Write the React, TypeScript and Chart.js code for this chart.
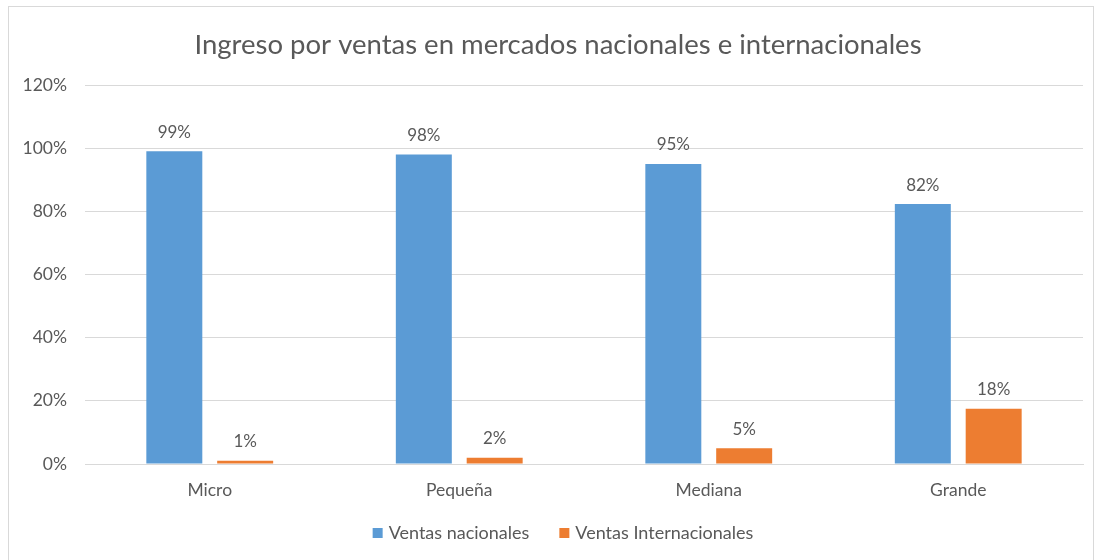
import React, { useEffect, useRef } from "react";
import { Chart, registerables } from "chart.js";

Chart.register(...registerables);

const categories = ["Micro", "Pequeña", "Mediana", "Grande"];
const nacionales = [99, 98, 95, 82.3];
const internacionales = [1, 2, 5, 17.5];
const yTicks = [0, 20, 40, 60, 80, 100, 120];
const titleText = "Ingreso por ventas en mercados nacionales e internacionales";

const TEXT = "#595959";
const FONT = "Lato, 'Noto Sans', sans-serif";

const dataLabels = {
  id: "dataLabels",
  afterDatasetsDraw(chart: any) {
    const ctx = chart.ctx;
    ctx.save();
    ctx.font = `17px ${FONT}`;
    ctx.fillStyle = TEXT;
    ctx.textAlign = "center";
    ctx.textBaseline = "middle";
    chart.data.datasets.forEach((ds: any, di: number) => {
      const meta = chart.getDatasetMeta(di);
      meta.data.forEach((bar: any, i: number) => {
        const v = ds.data[i];
        ctx.fillText(`${Math.round(v)}%`, bar.x, bar.y - 19);
      });
    });
    ctx.restore();
  },
};

const titleAndLegend = {
  id: "titleAndLegend",
  afterDraw(chart: any) {
    const ctx = chart.ctx;
    ctx.save();
    // title
    ctx.font = `27.5px ${FONT}`;
    ctx.fillStyle = TEXT;
    ctx.textAlign = "center";
    ctx.textBaseline = "middle";
    ctx.fillText(titleText, chart.width / 2 + 7, 38);
    // legend
    ctx.font = `18px ${FONT}`;
    const box = 10;
    const boxGap = 6;
    const itemGap = 30;
    const items = chart.data.datasets.map((ds: any) => ({
      label: ds.label,
      color: ds.backgroundColor,
      w: box + boxGap + ctx.measureText(ds.label).width,
    }));
    const total =
      items.reduce((s: number, it: any) => s + it.w, 0) + itemGap * (items.length - 1);
    let x = chart.width / 2 + 12 - total / 2;
    const y = 526;
    ctx.textAlign = "left";
    items.forEach((it: any) => {
      ctx.fillStyle = it.color;
      ctx.fillRect(x, y - box / 2, box, box);
      ctx.fillStyle = TEXT;
      ctx.fillText(it.label, x + box + boxGap, y);
      x += it.w + itemGap;
    });
    ctx.restore();
  },
};

export default function App() {
  const ref = useRef<HTMLCanvasElement | null>(null);
  useEffect(() => {
    if (!ref.current) return;
    const chart = new Chart(ref.current, {
      type: "bar",
      data: {
        labels: categories,
        datasets: [
          {
            label: "Ventas nacionales",
            data: nacionales,
            backgroundColor: "#5B9BD5",
            categoryPercentage: 0.568,
            barPercentage: 0.79,
          },
          {
            label: "Ventas Internacionales",
            data: internacionales,
            backgroundColor: "#ED7D31",
            categoryPercentage: 0.568,
            barPercentage: 0.79,
          },
        ],
      },
      options: {
        animation: false,
        responsive: false,
        maintainAspectRatio: false,
        layout: { padding: { left: 0, right: 10, top: 78, bottom: 42 } },
        plugins: {
          title: { display: false },
          legend: { display: false },
          tooltip: { enabled: false },
        },
        scales: {
          x: {
            grid: { display: false, drawTicks: false },
            border: { color: "#d9d9d9", width: 1 },
            ticks: {
              color: TEXT,
              font: { family: FONT, size: 17.5 },
              padding: 16,
            },
          },
          y: {
            min: 0,
            max: 120,
            afterFit(scale: any) {
              scale.width = 76;
            },
            afterBuildTicks(scale: any) {
              scale.ticks = yTicks.map((v) => ({ value: v }));
            },
            grid: { color: "#d9d9d9", drawTicks: false },
            border: { display: false },
            ticks: {
              color: TEXT,
              font: { family: FONT, size: 17.5 },
              padding: 18,
              callback: (v: any) => `${v}%`,
            },
          },
        },
      },
      plugins: [dataLabels, titleAndLegend],
    });
    return () => chart.destroy();
  }, []);
  return (
    <div
      style={{
        position: "absolute",
        left: 8,
        top: 6,
        width: 1084,
        height: 560,
        border: "1px solid #d9d9d9",
        background: "#fff",
      }}
    >
      <canvas ref={ref} width={1084} height={552} style={{ display: "block" }} />
    </div>
  );
}
